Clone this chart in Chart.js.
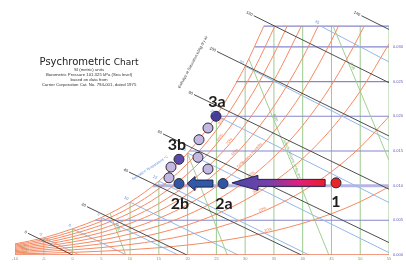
<!DOCTYPE html>
<html>
<head>
<meta charset="utf-8">
<script src="https://cdn.jsdelivr.net/npm/chart.js@4.4.1/dist/chart.umd.min.js"></script>
<style>
html, body { margin: 0; padding: 0; background: #fff; }
canvas { display: block; }
</style>
</head>
<body>
<canvas id="psy" width="406" height="264"></canvas>
<script>
// dry bulb (°C) where the RH curves were read
const dryBulb = [-10, -5, 0, 5, 10, 15, 20, 25, 30, 35, 40, 45, 50, 55];
// humidity ratio (kg/kg dry air) along each RH curve
const rh10 = [0.00016, 0.00025, 0.00038, 0.00054, 0.00076, 0.00105, 0.00144, 0.00195, 0.00262, 0.00347, 0.00457, 0.00595, 0.00768, 0.00983];
const rh20 = [0.00032, 0.0005, 0.00075, 0.00107, 0.00151, 0.0021, 0.00289, 0.00392, 0.00526, 0.00699, 0.0092, 0.01201, 0.01554, 0.01997];
const rh30 = [0.00048, 0.00074, 0.00113, 0.00161, 0.00227, 0.00316, 0.00434, 0.00589, 0.00792, 0.01054, 0.0139, 0.01819, 0.02361, 0.03045];
const rh40 = [0.00064, 0.00099, 0.0015, 0.00215, 0.00303, 0.00422, 0.0058, 0.00788, 0.01061, 0.01414, 0.01868, 0.02449, 0.03188];
const rh50 = [0.0008, 0.00124, 0.00188, 0.00269, 0.00379, 0.00528, 0.00726, 0.00988, 0.01331, 0.01777, 0.02352, 0.03091];
const rh60 = [0.00096, 0.00149, 0.00226, 0.00323, 0.00456, 0.00635, 0.00874, 0.0119, 0.01605, 0.02145, 0.02844];
const rh70 = [0.00112, 0.00173, 0.00264, 0.00377, 0.00532, 0.00742, 0.01022, 0.01393, 0.0188, 0.02517];
const rh80 = [0.00128, 0.00198, 0.00302, 0.00432, 0.00609, 0.00849, 0.0117, 0.01597, 0.02158, 0.02893];
const rh90 = [0.00144, 0.00223, 0.0034, 0.00486, 0.00686, 0.00957, 0.0132, 0.01802, 0.02438, 0.03273];
const rh100 = [0.0016, 0.00248, 0.00378, 0.0054, 0.00763, 0.01065, 0.0147, 0.02009, 0.02721];
const rhNames = ['10%', '20%', '30%', '40%', '50%', '60%', '70%', '80%', '90%', ''];
// dry bulb where a curve reaches the top line
const rhTopT = [null, null, null, 50.66, 46.22, 42.69, 39.77, 37.29, 35.14, 33.24];
const topW = 0.033;

// constant humidity ratio lines (start on saturation curve)
const hLineW = [0.005, 0.010, 0.015, 0.020, 0.025, 0.030, 0.033];
const hLineStartT = [3.95, 14.0, 20.32, 24.93, 28.4, 31.67, 33.24];

// dry bulb lines, up to saturation
const vLineT = [-5, 0, 5, 10, 15, 20, 25, 30, 35, 40, 45, 50, 55];
const vLineTopW = [0.00248, 0.00378, 0.0054, 0.00763, 0.01065, 0.0147, 0.02009, 0.02721, 0.033, 0.033, 0.033, 0.033, 0.033];

// enthalpy lines (kJ/kg dry air)
const enthalpy = ['0', '20', '40', '60', '80', '100', '120', '140'];
const enthStartT = [-7.74, 2.51, 9.81, 15.72, 21.11, 25.1, 31.5, 50.2];
const enthStartW = [0.00313, 0.00697, 0.01196, 0.01746, 0.02313, 0.02934, 0.0345, 0.0345];
const enthEndT = [0, 19.88, 39.76, 55, 55, 55, 55, 55];
const enthEndW = [0, 0, 0, 0.00179, 0.00948, 0.01716, 0.02484, 0.03252];

// wet bulb lines
const wetBulb = ['-5', '0', '5', '10', '15', '20', '25', '30', '35'];
const wbStartT = [-5, 0, 5, 10, 15, 20, 25, 30, 43.12];
const wbStartW = [0.00248, 0.00378, 0.0054, 0.00763, 0.01065, 0.0147, 0.02009, 0.02721, 0.033];
const wbEndT = [1.19, 9.38, 18.37, 28.8, 41.1, 55, 55, 55, 55];
const wbEndW = [0, 0, 0, 0, 0, 0.00034, 0.00756, 0.01655, 0.02784];

// specific volume lines (m³/kg dry air)
const specVol = ['0.75', '0.80', '0.85', '0.90', '0.95'];
const svStartT = [-9.12, 6.52, 19.97, 30.65, 45.29];
const svStartW = [0.00174, 0.006, 0.01469, 0.02828, 0.033];
const svEndT = [-8.4, 9.25, 26.9, 44.55, 55];
const svEndW = [0, 0, 0, 0, 0.01364];

// process states
const stateNames = ['1', '2a', '2b', '3a', '3b'];
const stateT = [45.79, 26.15, 18.5, 24.93, 18.5];
const stateW = [0.0104, 0.0103, 0.0103, 0.0200, 0.0138];
const stateColors = ['#e8262a', '#2f55a4', '#2f55a4', '#463c9c', '#5b49aa'];
// intermediate states
const midT = [23.54, 21.98, 21.8, 23.54, 17.11, 16.76];
const midW = [0.01831, 0.01662, 0.01408, 0.01239, 0.01268, 0.01113];

// arrows: tail -> tip
const arrowFromT = [43.9, 24.4];
const arrowToT = [27.7, 19.9];
const arrowW = [0.0104, 0.0103];

const xTicks = [-10, -5, 0, 5, 10, 15, 20, 25, 30, 35, 40, 45, 50, 55];
const yTicks = [0, 0.005, 0.010, 0.015, 0.020, 0.025, 0.030];

const datasets = [];
function addLine(data, color, width, order, extra) {
    datasets.push(Object.assign({
        data: data,
        showLine: true,
        borderColor: color,
        borderWidth: width,
        pointRadius: 0,
        pointHoverRadius: 0,
        fill: false,
        order: order
    }, extra || {}));
}

// 点
datasets.push({
    data: stateT.map((t, i) => ({ x: t, y: stateW[i] })),
    backgroundColor: stateColors,
    borderColor: '#2b2b3a',
    borderWidth: 1,
    pointRadius: 5,
    order: 0
});
datasets.push({
    data: midT.map((t, i) => ({ x: t, y: midW[i] })),
    backgroundColor: '#c4b8e2',
    borderColor: '#2b2b3a',
    borderWidth: 1,
    pointRadius: 5,
    order: 0
});

// 线
const rhSeries = [rh10, rh20, rh30, rh40, rh50, rh60, rh70, rh80, rh90, rh100];
const rhData = rhSeries.map((ws, k) => {
    const d = ws.map((w, i) => ({ x: dryBulb[i], y: w }));
    if (rhTopT[k] !== null) d.push({ x: rhTopT[k], y: topW });
    return d;
});

hLineW.forEach((w, i) => {
    if (w === 0.010) addLine([{ x: hLineStartT[i], y: w }, { x: 55, y: w }], '#b6b6e6', 3, 6);
    else addLine([{ x: hLineStartT[i], y: w }, { x: 55, y: w }], '#8686cc', 1.1, 6);
});
vLineT.forEach((t, i) => addLine([{ x: t, y: 0 }, { x: t, y: vLineTopW[i] }], '#9ccb8e', 1, 6));
svStartT.forEach((t, i) => addLine([{ x: t, y: svStartW[i] }, { x: svEndT[i], y: svEndW[i] }], '#9fd08f', 1, 5));
wbStartT.forEach((t, i) => addLine([{ x: t, y: wbStartW[i] }, { x: wbEndT[i], y: wbEndW[i] }], '#92b8ea', 1, 5));
rhData.forEach(d => addLine(d, '#f58a63', 1, 4, { cubicInterpolationMode: 'monotone' }));
addLine([{ x: -10, y: 0 }, { x: 55, y: 0 }], '#f07a5a', 1.5, 4);
addLine([{ x: -10, y: 0 }, { x: -10, y: rh100[0] }], '#f07a5a', 1, 4);
enthStartT.forEach((t, i) => addLine([{ x: t, y: enthStartW[i] }, { x: enthEndT[i], y: enthEndW[i] }], '#4e4e4e', 1, 3));

function txt(ctx, s, x, y, font, color, align, angle) {
    ctx.save();
    ctx.translate(x, y);
    if (angle) ctx.rotate(angle);
    ctx.font = font;
    ctx.fillStyle = color;
    ctx.textAlign = align || 'center';
    ctx.textBaseline = 'middle';
    ctx.fillText(s, 0, 0);
    ctx.restore();
}

function drawArrow(ctx, x0, x1, y, shaftH, headH, headL, fill) {
    ctx.beginPath();
    ctx.moveTo(x0, y - shaftH / 2);
    ctx.lineTo(x1 + headL, y - shaftH / 2);
    ctx.lineTo(x1 + headL, y - headH / 2);
    ctx.lineTo(x1, y);
    ctx.lineTo(x1 + headL, y + headH / 2);
    ctx.lineTo(x1 + headL, y + shaftH / 2);
    ctx.lineTo(x0, y + shaftH / 2);
    ctx.closePath();
    ctx.fillStyle = fill;
    ctx.fill();
    ctx.strokeStyle = '#23234a';
    ctx.lineWidth = 1;
    ctx.stroke();
}

// 曲线上某温度处的像素位置与角度
function curvePx(chart, d, t) {
    const xs = chart.scales.x, ys = chart.scales.y;
    for (let i = 0; i < d.length - 1; i++) {
        if (t >= d[i].x && t <= d[i + 1].x) {
            const f = (t - d[i].x) / (d[i + 1].x - d[i].x);
            const x0 = xs.getPixelForValue(d[i].x), y0 = ys.getPixelForValue(d[i].y);
            const x1 = xs.getPixelForValue(d[i + 1].x), y1 = ys.getPixelForValue(d[i + 1].y);
            return { x: x0 + (x1 - x0) * f, y: y0 + (y1 - y0) * f, a: Math.atan2(y1 - y0, x1 - x0) };
        }
    }
    return null;
}

const overlay = {
    id: 'overlay',
    afterDatasetsDraw(chart) {
        const ctx = chart.ctx;
        const xs = chart.scales.x, ys = chart.scales.y;
        const px = t => xs.getPixelForValue(t);
        const py = w => ys.getPixelForValue(w);
        const small = '4px "Liberation Sans", sans-serif';

        // title
        ctx.save();
        ctx.font = '10px "DejaVu Sans", sans-serif';
        const w1 = ctx.measureText('Psychrometric ').width;
        ctx.font = '9px "DejaVu Sans", sans-serif';
        const w2 = ctx.measureText('Chart').width;
        const tx = 89 - (w1 + w2) / 2;
        ctx.fillStyle = '#222';
        ctx.textBaseline = 'alphabetic';
        ctx.textAlign = 'left';
        ctx.font = '10px "DejaVu Sans", sans-serif';
        ctx.fillText('Psychrometric ', tx, 65);
        ctx.font = '9px "DejaVu Sans", sans-serif';
        ctx.fillText('Chart', tx + w1, 65);
        ctx.restore();
        const sub = ['SI (metric) units', 'Barometric Pressure 101.325 kPa (Sea level)', 'based on data from', 'Carrier Corporation Cat. No. 794-001, dated 1975'];
        sub.forEach((s, i) => txt(ctx, s, 89, 70 + i * 5, '4.3px "Liberation Sans", sans-serif', '#333'));

        // axis labels
        xTicks.forEach(t => txt(ctx, String(t), px(t), 259, small, '#6ea858'));
        yTicks.forEach(w => txt(ctx, w.toFixed(3), 393, py(w), small, '#5a5ab8', 'left'));

        // enthalpy labels
        enthStartT.forEach((t, i) => {
            const sx = px(t), sy = py(enthStartW[i]);
            const a = Math.atan2(py(enthEndW[i]) - sy, px(enthEndT[i]) - sx);
            txt(ctx, enthalpy[i], sx - 1.5 * Math.cos(a), sy - 1.5 * Math.sin(a), small, '#333', 'right', a);
        });
        txt(ctx, 'Enthalpy at Saturation kJ/kg dry air', 193, 62, '3.8px "Liberation Sans", sans-serif', '#333', 'center', -1.08);

        // wet bulb labels
        wbStartT.forEach((t, i) => {
            const sx = px(t), sy = py(wbStartW[i]);
            const a = Math.atan2(py(wbEndW[i]) - sy, px(wbEndT[i]) - sx);
            txt(ctx, wetBulb[i], sx - 2 * Math.cos(a), sy - 2 * Math.sin(a) - 2, small, '#5f8fd6', 'right', a);
        });
        txt(ctx, 'Saturation Temperature °C', 150, 168, '3.6px "Liberation Sans", sans-serif', '#5f8fd6', 'center', -0.58);

        // specific volume labels
        const svAt = [0.5, 0.35, 0.3, 0.3, 0.3];
        specVol.forEach((s, i) => {
            const sx = px(svStartT[i]), sy = py(svStartW[i]);
            const ex = px(svEndT[i]), ey = py(svEndW[i]);
            const a = Math.atan2(ey - sy, ex - sx);
            const f = svAt[i];
            txt(ctx, s, sx + (ex - sx) * f + 2.5, sy + (ey - sy) * f, small, '#6aa84f', 'center', a);
            if (i === 3) {
                txt(ctx, 'Specific Volume m³/kg dry air', sx + (ex - sx) * 0.52 + 2.5, sy + (ey - sy) * 0.52, '3.6px "Liberation Sans", sans-serif', '#6aa84f', 'center', a);
            }
        });

        // RH labels
        const rhLabelT = [34, 33, 32, 31, 29.2, 28.2, 27.2, 25.6, 25.8];
        rhLabelT.forEach((t, k) => {
            const p = curvePx(chart, rhData[k], t);
            if (!p) return;
            txt(ctx, rhNames[k], p.x, p.y - 2, small, '#f07a50', 'center', p.a);
        });
        const pr = curvePx(chart, rhData[4], 31.2);
        txt(ctx, 'Relative Humidity', pr.x, pr.y - 2, '3.6px "Liberation Sans", sans-serif', '#f07a50', 'center', pr.a);

        // arrows
        const yA = py(arrowW[0]);
        const g = ctx.createLinearGradient(px(arrowToT[0]), 0, px(arrowFromT[0]), 0);
        g.addColorStop(0, '#4a48a8');
        g.addColorStop(0.4, '#763fa8');
        g.addColorStop(0.72, '#e0207c');
        g.addColorStop(1, '#ec1c2a');
        drawArrow(ctx, px(arrowFromT[0]), px(arrowToT[0]), yA, 7, 15, 26, g);
        drawArrow(ctx, px(arrowFromT[1]), px(arrowToT[1]), py(arrowW[1]), 7, 14, 8, '#2e5aa8');

        // state labels
        const off = [[0, 19], [1, 20], [1, 20], [1, -14], [-2, -14]];
        stateNames.forEach((s, i) => {
            txt(ctx, s, px(stateT[i]) + off[i][0], py(stateW[i]) + off[i][1], 'bold 16px Lato, "Open Sans", sans-serif', '#1c1c1c');
        });
    }
};

new Chart(document.getElementById('psy'), {
    type: 'scatter',
    data: { datasets: datasets },
    options: {
        responsive: false,
        animation: false,
        events: [],
        layout: { padding: { left: 15, right: 17, top: 0, bottom: 9 } },
        plugins: { legend: { display: false }, tooltip: { enabled: false } },
        scales: {
            x: { type: 'linear', min: -10, max: 55, display: false },
            y: { type: 'linear', min: 0, max: 0.0359, display: false }
        }
    },
    plugins: [overlay]
});
</script>
</body>
</html>
